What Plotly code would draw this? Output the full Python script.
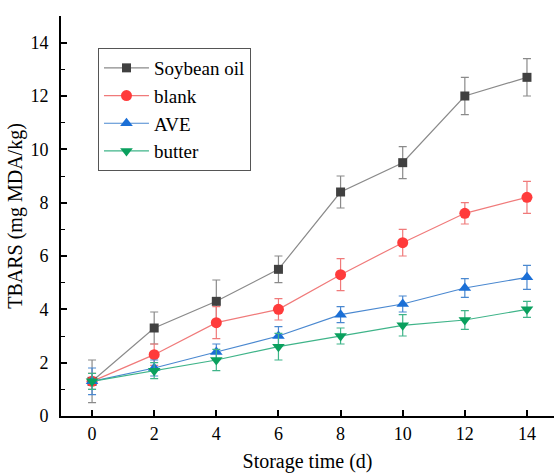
import plotly.graph_objects as go

days = [0, 2, 4, 6, 8, 10, 12, 14]

soybean = [1.3, 3.3, 4.3, 5.5, 8.4, 9.5, 12.0, 12.7]
soybean_err = [0.8, 0.6, 0.8, 0.5, 0.6, 0.6, 0.7, 0.7]

blank = [1.3, 2.3, 3.5, 4.0, 5.3, 6.5, 7.6, 8.2]
blank_err = [0.3, 0.4, 0.6, 0.4, 0.6, 0.5, 0.4, 0.6]

ave = [1.3, 1.8, 2.4, 3.0, 3.8, 4.2, 4.8, 5.2]
ave_err = [0.5, 0.3, 0.3, 0.35, 0.3, 0.3, 0.35, 0.45]

butter = [1.3, 1.7, 2.1, 2.6, 3.0, 3.4, 3.6, 4.0]
butter_err = [0.3, 0.3, 0.4, 0.5, 0.3, 0.4, 0.35, 0.3]

x_ticks = [0, 2, 4, 6, 8, 10, 12, 14]
y_ticks = [0, 2, 4, 6, 8, 10, 12, 14]

series = [
    ("Soybean oil", soybean, soybean_err, "#404040", "#8a8a8a", "square", 9),
    ("blank", blank, blank_err, "#ff3b3b", "#f07a7a", "circle", 11),
    ("AVE", ave, ave_err, "#1b6fd6", "#4a88d0", "triangle-up", 11),
    ("butter", butter, butter_err, "#0aa05e", "#3fb489", "triangle-down", 11),
]

fig = go.Figure()
for name, vals, errs, mcol, lcol, sym, size in series:
    fig.add_trace(go.Scatter(
        x=days, y=vals, name=name, mode="lines+markers",
        line=dict(color=lcol, width=1.2),
        marker=dict(color=mcol, symbol=sym, size=size, line=dict(width=0)),
        error_y=dict(type="data", array=errs, visible=True,
                     color=lcol, thickness=1.2, width=4),
    ))

font = "Liberation Serif"

fig.update_layout(
    width=554, height=473,
    margin=dict(l=61, r=0, t=16, b=57),
    paper_bgcolor="white", plot_bgcolor="white",
    font=dict(family=font, color="black", size=17),
    showlegend=True,
    legend=dict(
        x=0.075, y=0.92, xanchor="left", yanchor="top",
        bordercolor="#555555", borderwidth=1, bgcolor="white",
        font=dict(family=font, size=19, color="black"),
        tracegroupgap=0, itemwidth=45,
    ),
    xaxis=dict(
        range=[-1, 14.87], tickvals=x_ticks, ticktext=[str(v) for v in x_ticks],
        showline=True, linecolor="black", linewidth=2, mirror=False,
        ticks="inside", ticklen=6, tickwidth=1.5, tickcolor="black",
        showgrid=False, zeroline=False,
        tickfont=dict(family=font, size=18, color="black"),
        title=dict(text="Storage time (d)", font=dict(family=font, size=20), standoff=12),
    ),
    yaxis=dict(
        range=[0, 15], tickvals=y_ticks, ticktext=[str(v) for v in y_ticks],
        showline=True, linecolor="black", linewidth=2, mirror=False,
        ticks="inside", ticklen=6, tickwidth=1.5, tickcolor="black",
        minor=dict(dtick=1, ticks="inside", ticklen=4, tickwidth=1.2, tickcolor="black", showgrid=False),
        showgrid=False, zeroline=False,
        tickfont=dict(family=font, size=18, color="black"),
        ticklabelstandoff=7,
        title=dict(text="TBARS (mg MDA/kg)", font=dict(family=font, size=20), standoff=2),
    ),
)

fig.write_html("out.html")
